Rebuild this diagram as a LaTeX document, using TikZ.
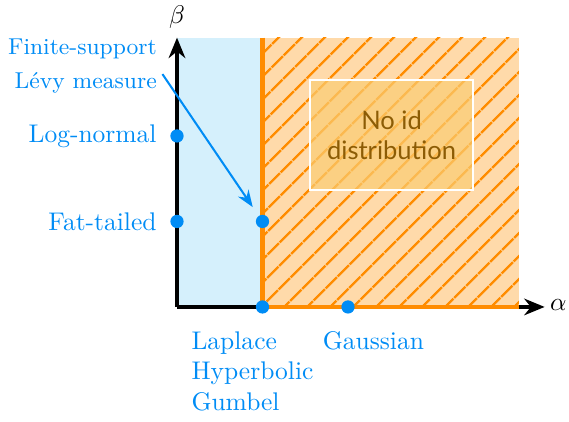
\documentclass[tikz,border=0pt]{standalone}
\usepackage{fontspec}
\usepackage{tikz}
\usetikzlibrary{arrows.meta,positioning,patterns.meta}
\newfontfamily\boxfont{Lato}
\definecolor{dotblue}{RGB}{0,140,245}
\definecolor{regblue}{RGB}{213,240,252}
\definecolor{regorange}{RGB}{255,218,170}
\definecolor{lineorange}{RGB}{255,140,0}
\definecolor{boxorange}{RGB}{250,205,115}
\definecolor{boxbrown}{RGB}{140,92,5}

\begin{document}
\begin{tikzpicture}[
    x=1.178cm, y=1.178cm,
    dot/.style={circle, fill=dotblue, inner sep=0pt, minimum size=5.2pt},
    lab/.style={text=dotblue, inner sep=0pt},
    axis/.style={line width=1.6pt, -{Stealth[length=8pt,width=6.5pt]}},
    edge/.style={draw=lineorange, line width=1.6pt},
    nobox/.style={draw=white, line width=0.6pt, fill=boxorange, fill opacity=0.7,
                  text opacity=1, text=boxbrown, font=\boxfont, align=center,
                  minimum width=2.25cm, minimum height=1.52cm},
    >=Stealth,
    ]
\useasboundingbox (-2.07,-1.345) rectangle (4.585,3.59);
\coordinate (origin) at (0,0);
\coordinate (ytop) at (0,3.15);
\coordinate (xend) at (4.3,0);

\fill[regblue] (0,0) rectangle (1,3.15);
\fill[regorange, postaction={pattern={Lines[angle=45,distance=6.5pt,line width=1pt]},
      pattern color=lineorange}] (1,0) rectangle (4,3.15);

\node[nobox] (noid) at (2.51,2.01) {No id\\distribution};

\draw[axis] (origin) -- (ytop);
\draw[axis] (origin) -- (xend);
\draw[edge] (1,3.15) -- (1,0) -- (4,0);

\node (beta) at (0,3.39) {$\beta$};
\node (alpha) at (4.46,0.02) {$\alpha$};

\node[dot] (lndot) at (0,2) {};
\node[dot] (ftdot) at (0,1) {};
\node[dot] (edot) at (1,1) {};
\node[dot] (lapdot) at (1,0) {};
\node[dot] (gaudot) at (2,0) {};

\node[lab, left=5pt of lndot] (ln) {Log-normal};
\node[lab, left=5pt of ftdot] (ft) {Fat-tailed};
\node[lab, anchor=base east, font=\small] (fin) at (-0.23,2.95) {Finite-support};
\node[lab, anchor=base east, font=\small] (levy) at (-0.23,2.56) {Lévy measure};
\node[lab, anchor=north west, align=left] (lap) at (0.164,-0.28) {Laplace\\Hyperbolic\\Gumbel};
\node[lab, anchor=north west] (gau) at (1.70,-0.28) {Gaussian};

\draw[->, dotblue, line width=0.8pt, shorten >=4pt] ([xshift=2pt,yshift=-1pt]levy.north east) -- (edot);
\end{tikzpicture}
\end{document}
